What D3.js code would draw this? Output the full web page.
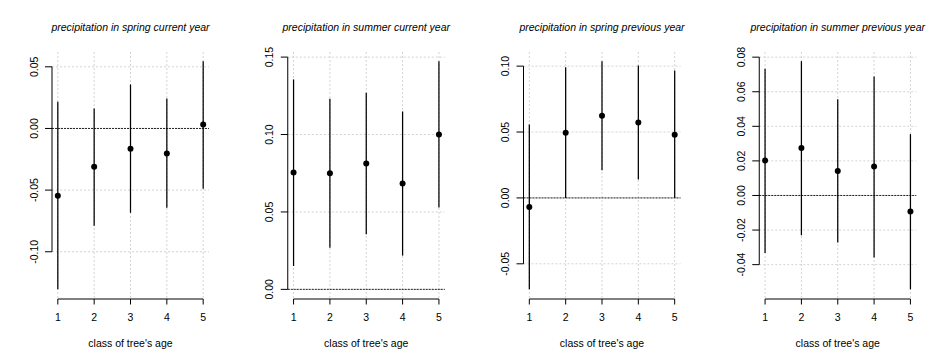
<!DOCTYPE html>
<html>
<head>
<meta charset="utf-8">
<script src="https://cdn.jsdelivr.net/npm/d3@7"></script>
<style>
  html, body { margin: 0; padding: 0; background: #fff; }
  svg { display: block; }
  text { font-family: "Liberation Sans", Arial, Helvetica, sans-serif; fill: #000; }
</style>
</head>
<body>
<svg id="chart" width="943" height="363"></svg>
<script>
// ---------- data ----------
const classes = [1, 2, 3, 4, 5];
const xAxisTitle = "class of tree's age";

const titles = [
  "precipitation in spring current year",
  "precipitation in summer current year",
  "precipitation in spring previous year",
  "precipitation in summer previous year"
];

const estSpringCur = [-0.0546, -0.0310, -0.0165, -0.0203, 0.0032];
const lowSpringCur = [-0.1305, -0.0789, -0.0684, -0.0643, -0.0489];
const highSpringCur = [0.0216, 0.0162, 0.0357, 0.0243, 0.0546];

const estSummerCur = [0.0754, 0.0750, 0.0813, 0.0683, 0.1000];
const lowSummerCur = [0.0151, 0.0269, 0.0356, 0.0218, 0.0528];
const highSummerCur = [0.1356, 0.1231, 0.1269, 0.1149, 0.1474];

const estSpringPrev = [-0.0068, 0.0495, 0.0624, 0.0573, 0.0480];
const lowSpringPrev = [-0.0694, 0.0000, 0.0210, 0.0139, 0.0000];
const highSpringPrev = [0.0558, 0.0992, 0.1038, 0.1005, 0.0967];

const estSummerPrev = [0.0203, 0.0274, 0.0142, 0.0167, -0.0092];
const lowSummerPrev = [-0.0332, -0.0230, -0.0272, -0.0359, -0.0543];
const highSummerPrev = [0.0733, 0.0777, 0.0556, 0.0688, 0.0355];

const ticksSpringCur = [-0.10, -0.05, 0.00, 0.05];
const ticksSummerCur = [0.00, 0.05, 0.10, 0.15];
const ticksSpringPrev = [-0.05, 0.00, 0.05, 0.10];
const ticksSummerPrev = [-0.04, -0.02, 0.00, 0.02, 0.04, 0.06, 0.08];

const panels = [
  { title: titles[0], est: estSpringCur, low: lowSpringCur, high: highSpringCur, ticks: ticksSpringCur },
  { title: titles[1], est: estSummerCur, low: lowSummerCur, high: highSummerCur, ticks: ticksSummerCur },
  { title: titles[2], est: estSpringPrev, low: lowSpringPrev, high: highSpringPrev, ticks: ticksSpringPrev },
  { title: titles[3], est: estSummerPrev, low: lowSummerPrev, high: highSummerPrev, ticks: ticksSummerPrev }
];

// ---------- layout ----------
const W = 943, H = 363;
const panelW = W / 4;
const plot = { left: 52, right: 209, top: 52, bottom: 298.5 };
const fmt = v => { const s = v.toFixed(2); return s === "-0.00" ? "0.00" : s; };

const svg = d3.select("#chart");

function extend(lo, hi) { const p = (hi - lo) * 0.04; return [lo - p, hi + p]; }

panels.forEach((p, i) => {
  const g = svg.append("g").attr("transform", `translate(${i * panelW},0)`);

  const xDom = extend(d3.min(classes), d3.max(classes));
  const x = d3.scaleLinear().domain(xDom).range([plot.left, plot.right]);
  const yDom = extend(Math.min(0, d3.min(p.low)), Math.max(0, d3.max(p.high)));
  const y = d3.scaleLinear().domain(yDom).range([plot.bottom, plot.top]);

  // grid
  g.append("g").selectAll("line").data(classes).join("line")
    .attr("x1", d => x(d)).attr("x2", d => x(d))
    .attr("y1", plot.top).attr("y2", plot.bottom)
    .attr("stroke", "#d3d3d3").attr("stroke-width", 1).attr("stroke-dasharray", "2,2");
  g.append("g").selectAll("line").data(p.ticks).join("line")
    .attr("x1", plot.left).attr("x2", plot.right)
    .attr("y1", d => y(d)).attr("y2", d => y(d))
    .attr("stroke", "#d3d3d3").attr("stroke-width", 1).attr("stroke-dasharray", "2,2");

  // zero reference line
  g.append("line")
    .attr("x1", plot.left).attr("x2", plot.right)
    .attr("y1", y(0)).attr("y2", y(0))
    .attr("stroke", "#222").attr("stroke-width", 1).attr("stroke-dasharray", "2,1");

  // error bars
  g.append("g").selectAll("line").data(classes).join("line")
    .attr("x1", (d, j) => x(d)).attr("x2", (d, j) => x(d))
    .attr("y1", (d, j) => y(p.low[j])).attr("y2", (d, j) => y(p.high[j]))
    .attr("stroke", "#000").attr("stroke-width", 1.25);

  // points
  g.append("g").selectAll("circle").data(classes).join("circle")
    .attr("cx", d => x(d)).attr("cy", (d, j) => y(p.est[j]))
    .attr("r", 3).attr("fill", "#000");

  // y axis (R style)
  const ya = g.append("g").attr("transform", `translate(${plot.left},0)`);
  ya.append("line")
    .attr("x1", 0).attr("x2", 0)
    .attr("y1", y(d3.min(p.ticks))).attr("y2", y(d3.max(p.ticks)))
    .attr("stroke", "#000");
  ya.selectAll("line.tk").data(p.ticks).join("line").attr("class", "tk")
    .attr("x1", -7).attr("x2", 0)
    .attr("y1", d => y(d)).attr("y2", d => y(d))
    .attr("stroke", "#000");
  ya.selectAll("text").data(p.ticks).join("text")
    .attr("transform", d => `translate(-14.5,${y(d)}) rotate(-90)`)
    .attr("text-anchor", "middle")
    .attr("font-size", "10.5px")
    .text(d => fmt(d));

  // x axis (R style)
  const xaY = 299;
  const xa = g.append("g").attr("transform", `translate(0,${xaY})`);
  xa.append("line")
    .attr("x1", x(d3.min(classes))).attr("x2", x(d3.max(classes)))
    .attr("y1", 0).attr("y2", 0).attr("stroke", "#000");
  xa.selectAll("line.tk").data(classes).join("line").attr("class", "tk")
    .attr("x1", d => x(d)).attr("x2", d => x(d))
    .attr("y1", 0).attr("y2", 5.5).attr("stroke", "#000");
  xa.selectAll("text").data(classes).join("text")
    .attr("x", d => x(d)).attr("y", 22)
    .attr("text-anchor", "middle")
    .attr("font-size", "10.5px")
    .text(d => d);

  // x label
  g.append("text")
    .attr("x", (plot.left + plot.right) / 2).attr("y", 346.5)
    .attr("text-anchor", "middle").attr("font-size", "10.5px")
    .text(xAxisTitle);

  // title
  g.append("text")
    .attr("x", (plot.left + plot.right) / 2).attr("y", 30.5)
    .attr("text-anchor", "middle").attr("font-size", "10.5px")
    .attr("font-style", "italic")
    .text(p.title);
});
</script>
</body>
</html>
